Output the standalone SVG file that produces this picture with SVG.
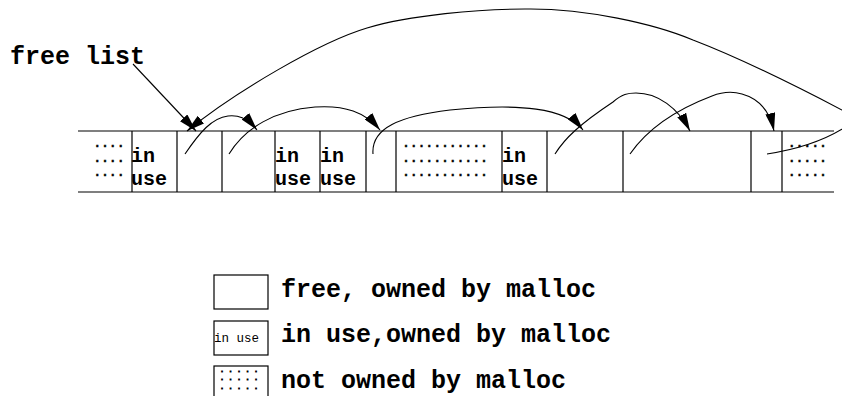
<svg xmlns="http://www.w3.org/2000/svg" width="842" height="396" viewBox="0 0 842 396">
<style>
.ln{stroke:#000;stroke-width:1.2;fill:none}
.bx{stroke:#000;stroke-width:1.2;fill:#fff}
.t{font-family:"Liberation Mono","Courier New",monospace;font-weight:bold;fill:#000}
.cell{font-size:20px}
.dots{font-size:12.5px;letter-spacing:0.3px;stroke:#000;stroke-width:0.4}
.ldots{font-size:6.8px;letter-spacing:4.42px;stroke:#000;stroke-width:0.8}
.big{font-size:25px}
.small{font-size:12.5px;font-weight:normal}
.ar{stroke:#000;stroke-width:1.1;fill:none;marker-end:url(#ah)}
</style>
<defs>
<marker id="ah" markerUnits="userSpaceOnUse" viewBox="0 0 18 10" refX="18" refY="5" markerWidth="18" markerHeight="10" orient="auto">
<path d="M0,0 L18,5 L0,10 z" fill="#000"/>
</marker>
</defs>
<rect width="842" height="396" fill="#fff"/>

<g id="free-list-label"><text class="t big" x="10" y="64">free list</text></g>

<g id="memory-strip">
<path class="ln" d="M78,131 H834 M78,192 H834"/>
<path class="ln" d="M132,131V192 M177,131V192 M222,131V192 M275,131V192 M320,131V192 M366,131V192 M396,131V192 M502,131V192 M547,131V192 M623,131V192 M751,131V192 M782,131V192"/>
</g>

<g id="cell-1"><text class="t dots"><tspan x="93.5" y="146.5">....</tspan><tspan x="93.5" y="161.5">....</tspan><tspan x="93.5" y="176">....</tspan></text></g>
<g id="cell-2"><text class="t cell" x="131" y="162">in</text><text class="t cell" x="131" y="185">use</text></g>
<g id="cell-3"></g>
<g id="cell-4"></g>
<g id="cell-5"><text class="t cell" x="275" y="162">in</text><text class="t cell" x="275" y="185">use</text></g>
<g id="cell-6"><text class="t cell" x="320" y="162">in</text><text class="t cell" x="320" y="185">use</text></g>
<g id="cell-7"></g>
<g id="cell-8"><text class="t dots"><tspan x="402.2" y="146.5">...........</tspan><tspan x="402.2" y="161.5">...........</tspan><tspan x="402.2" y="176">...........</tspan></text></g>
<g id="cell-9"><text class="t cell" x="502" y="162">in</text><text class="t cell" x="502" y="185">use</text></g>
<g id="cell-10"></g>
<g id="cell-11"></g>
<g id="cell-12"></g>
<g id="cell-13"><text class="t dots"><tspan x="788" y="146.5">.....</tspan><tspan x="788" y="161.5">.....</tspan><tspan x="788" y="176">.....</tspan></text></g>

<g id="connectors">
<path class="ar" d="M133,64 L196,131"/>
<path class="ar" d="M767,154 C800,149 830,138 850,124 C858,118 854,113 842,110 C800,88 740,58 693,40 C655,24 585,8 525,9 C480,9 410,15 367,28 C320,42 235,92 187,131"/>
<path class="ar" d="M185,154 C200,132 212,118 228,116 C238,115 246,117 257,130"/>
<path class="ar" d="M229,154 C245,128 275,110 315,107 C345,105 365,112 380,130"/>
<path class="ar" d="M373,154 C371,128 400,116 450,110 C520,103 565,108 583,130"/>
<path class="ar" d="M555,154 C565,138 580,124 613,102 C622,94 628,93 636,93 C658,93 678,108 690,131"/>
<path class="ar" d="M630,154 C648,128 675,110 712,96 C722,92 732,91 742,94 C760,99 770,112 774,131"/>
</g>

<g id="legend-free"><rect class="bx" x="214" y="275" width="54" height="34"/><text class="t big" x="281" y="297">free, owned by malloc</text></g>
<g id="legend-inuse"><rect class="bx" x="214" y="321" width="54" height="34"/><text class="t small" x="214" y="342">in use</text><text class="t big" x="281" y="342">in use,owned by malloc</text></g>
<g id="legend-notowned"><rect class="bx" x="214" y="366" width="54" height="40"/><text class="t ldots"><tspan x="219.9" y="372.2">.....</tspan><tspan x="219.9" y="380.2">.....</tspan><tspan x="219.9" y="388.6">.....</tspan></text><text class="t big" x="281" y="388">not owned by malloc</text></g>
</svg>
